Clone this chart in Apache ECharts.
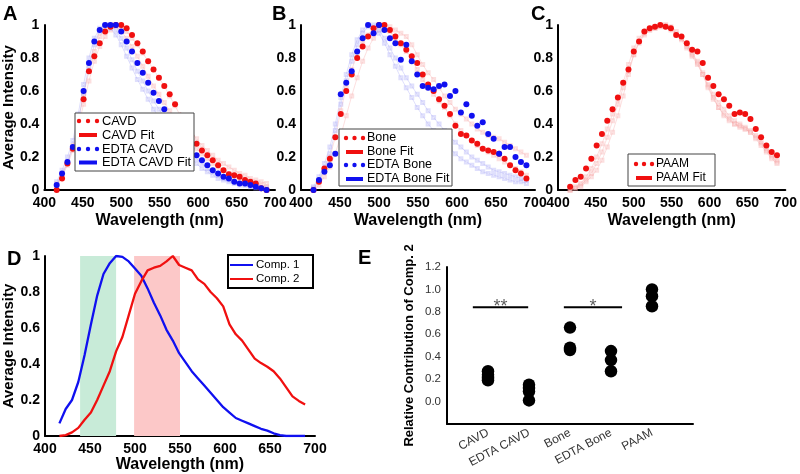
<!DOCTYPE html>
<html>
<head>
<meta charset="utf-8">
<script src="https://cdn.jsdelivr.net/npm/echarts@6/dist/echarts.min.js"></script>
<style>
  html, body { margin: 0; padding: 0; background: #fff; }
  #main { width: 800px; height: 474px; }
</style>
</head>
<body>
<div id="main"></div>
<script>
// wavelength channels (nm)
const wavelengths = [416, 423, 430, 437, 444, 451, 458, 465, 472, 479, 486, 493, 500, 507, 514, 521, 528, 535, 542, 549,
                     556, 563, 570, 577, 584, 591, 598, 605, 612, 619, 626, 633, 640, 647, 654, 661, 668, 675, 682, 689];

// panel A
const cavd = [0.00, 0.07, 0.16, 0.25, 0.38, 0.55, 0.72, 0.81, 0.89, 0.96, 0.99, 1.00, 1.00, 0.98, 0.94, 0.89, 0.84, 0.78, 0.73, 0.68,
              0.63, 0.58, 0.52, 0.45, 0.39, 0.33, 0.28, 0.24, 0.21, 0.18, 0.15, 0.12, 0.095, 0.09, 0.08, 0.06, 0.05, 0.04, 0.01, 0.00];
const edtaCavd = [0.03, 0.10, 0.17, 0.26, 0.42, 0.60, 0.77, 0.90, 0.97, 1.00, 1.00, 1.00, 0.96, 0.90, 0.84, 0.77, 0.71, 0.65, 0.59, 0.54,
                  0.49, 0.43, 0.38, 0.33, 0.29, 0.25, 0.21, 0.18, 0.15, 0.12, 0.10, 0.08, 0.07, 0.05, 0.04, 0.04, 0.03, 0.02, 0.01, 0.00];
const cavdFaint1 = [0.02, 0.08, 0.15, 0.24, 0.38, 0.52, 0.66, 0.78, 0.87, 0.93, 0.97, 1.00, 0.99, 0.96, 0.92, 0.88, 0.83, 0.78, 0.73, 0.68,
                    0.63, 0.57, 0.51, 0.45, 0.40, 0.35, 0.31, 0.27, 0.24, 0.21, 0.18, 0.16, 0.14, 0.12, 0.10, 0.09, 0.07, 0.06, 0.05, 0.04];
const cavdFaint2 = [0.04, 0.10, 0.17, 0.27, 0.42, 0.58, 0.72, 0.84, 0.93, 0.98, 1.00, 0.99, 0.96, 0.92, 0.87, 0.81, 0.75, 0.69, 0.63, 0.58,
                    0.53, 0.48, 0.43, 0.38, 0.33, 0.29, 0.25, 0.22, 0.19, 0.16, 0.14, 0.12, 0.10, 0.08, 0.07, 0.06, 0.05, 0.04, 0.03, 0.02];
const edtaCavdFaint1 = [0.05, 0.12, 0.20, 0.30, 0.46, 0.64, 0.80, 0.92, 0.98, 1.00, 0.98, 0.94, 0.88, 0.81, 0.74, 0.67, 0.61, 0.55, 0.49, 0.44,
                        0.39, 0.34, 0.30, 0.26, 0.22, 0.19, 0.16, 0.13, 0.11, 0.09, 0.07, 0.06, 0.05, 0.04, 0.03, 0.03, 0.02, 0.01, 0.01, 0.00];
const edtaCavdFaint2 = [0.03, 0.09, 0.16, 0.26, 0.41, 0.59, 0.75, 0.88, 0.96, 1.00, 1.00, 0.97, 0.92, 0.86, 0.79, 0.72, 0.66, 0.60, 0.54, 0.49,
                        0.44, 0.39, 0.35, 0.30, 0.26, 0.22, 0.19, 0.16, 0.13, 0.11, 0.09, 0.07, 0.06, 0.05, 0.04, 0.03, 0.02, 0.02, 0.01, 0.01];

// panel B
const bone = [0.00, 0.05, 0.13, 0.19, 0.32, 0.46, 0.60, 0.70, 0.80, 0.87, 0.93, 0.98, 1.00, 1.00, 0.97, 0.93, 0.89, 0.85, 0.81, 0.77,
              0.70, 0.64, 0.60, 0.55, 0.51, 0.46, 0.39, 0.34, 0.33, 0.30, 0.28, 0.25, 0.24, 0.23, 0.22, 0.19, 0.15, 0.12, 0.10, 0.07];
const edtaBone = [0.00, 0.06, 0.11, 0.15, 0.22, 0.58, 0.65, 0.72, 0.84, 0.92, 1.00, 0.95, 1.00, 0.97, 0.92, 0.89, 0.79, 0.88, 0.78, 0.70,
                  0.63, 0.62, 0.61, 0.63, 0.64, 0.57, 0.60, 0.47, 0.52, 0.45, 0.39, 0.41, 0.34, 0.31, 0.22, 0.26, 0.26, 0.20, 0.17, 0.15];
const boneFaint1 = [0.00, 0.03, 0.08, 0.14, 0.22, 0.33, 0.45, 0.57, 0.68, 0.78, 0.86, 0.92, 0.97, 1.00, 0.99, 0.97, 0.95, 0.93, 0.88, 0.82,
                    0.76, 0.71, 0.67, 0.62, 0.57, 0.53, 0.49, 0.46, 0.43, 0.40, 0.37, 0.35, 0.33, 0.32, 0.31, 0.29, 0.27, 0.25, 0.23, 0.21];
const boneFaint2 = [0.01, 0.05, 0.12, 0.20, 0.32, 0.48, 0.62, 0.73, 0.82, 0.89, 0.94, 0.98, 1.00, 0.99, 0.96, 0.92, 0.88, 0.84, 0.79, 0.73,
                    0.67, 0.62, 0.58, 0.54, 0.50, 0.45, 0.40, 0.36, 0.33, 0.30, 0.27, 0.25, 0.23, 0.21, 0.19, 0.17, 0.15, 0.13, 0.11, 0.09];
const edtaBoneFaint1 = [0.02, 0.08, 0.16, 0.26, 0.40, 0.56, 0.70, 0.82, 0.91, 0.97, 1.00, 0.99, 0.95, 0.89, 0.82, 0.75, 0.68, 0.62, 0.56, 0.50,
                        0.45, 0.40, 0.36, 0.32, 0.28, 0.25, 0.22, 0.19, 0.17, 0.15, 0.13, 0.11, 0.10, 0.09, 0.08, 0.07, 0.06, 0.05, 0.05, 0.04];
const edtaBoneFaint2 = [0.01, 0.06, 0.13, 0.22, 0.36, 0.52, 0.66, 0.78, 0.88, 0.95, 0.99, 1.00, 0.97, 0.92, 0.86, 0.80, 0.74, 0.68, 0.63, 0.58,
                        0.53, 0.48, 0.44, 0.40, 0.36, 0.32, 0.29, 0.26, 0.23, 0.20, 0.18, 0.16, 0.14, 0.12, 0.11, 0.10, 0.09, 0.08, 0.07, 0.06];

// panel C
const paam = [0.02, 0.06, 0.08, 0.13, 0.19, 0.27, 0.34, 0.42, 0.49, 0.56, 0.65, 0.73, 0.84, 0.90, 0.96, 0.98, 0.99, 1.00, 0.99, 0.98,
              0.94, 0.93, 0.89, 0.85, 0.84, 0.77, 0.68, 0.63, 0.58, 0.55, 0.51, 0.46, 0.47, 0.46, 0.43, 0.37, 0.32, 0.27, 0.23, 0.21];
const paamFaint1 = [0.00, 0.01, 0.03, 0.06, 0.10, 0.16, 0.23, 0.32, 0.42, 0.52, 0.62, 0.72, 0.82, 0.89, 0.94, 0.97, 0.98, 0.99, 1.00, 0.98,
                    0.95, 0.92, 0.88, 0.83, 0.78, 0.71, 0.64, 0.58, 0.53, 0.49, 0.45, 0.42, 0.40, 0.38, 0.36, 0.33, 0.29, 0.25, 0.21, 0.18];
const paamFaint2 = [0.00, 0.02, 0.04, 0.08, 0.13, 0.20, 0.28, 0.37, 0.46, 0.55, 0.65, 0.76, 0.86, 0.92, 0.96, 0.98, 0.99, 1.00, 0.99, 0.97,
                    0.94, 0.91, 0.86, 0.81, 0.76, 0.70, 0.63, 0.56, 0.50, 0.46, 0.43, 0.40, 0.38, 0.37, 0.35, 0.32, 0.28, 0.24, 0.20, 0.17];
const paamFaint3 = [0.00, 0.01, 0.02, 0.05, 0.08, 0.12, 0.18, 0.26, 0.35, 0.45, 0.57, 0.70, 0.82, 0.90, 0.95, 0.97, 0.98, 0.99, 1.00, 0.99,
                    0.96, 0.92, 0.87, 0.82, 0.77, 0.70, 0.62, 0.55, 0.50, 0.45, 0.42, 0.40, 0.39, 0.37, 0.35, 0.31, 0.27, 0.23, 0.19, 0.16];

// panel D
const comp1 = [0.07, 0.15, 0.20, 0.30, 0.45, 0.62, 0.78, 0.90, 0.96, 1.00, 0.995, 0.97, 0.93, 0.89, 0.82, 0.74, 0.67, 0.59, 0.53, 0.46,
               0.41, 0.36, 0.32, 0.28, 0.24, 0.20, 0.16, 0.13, 0.10, 0.085, 0.07, 0.055, 0.04, 0.03, 0.015, 0.005, 0.00, 0.00, 0.00, 0.00];
const comp2 = [0.00, 0.005, 0.02, 0.045, 0.09, 0.13, 0.20, 0.28, 0.36, 0.47, 0.55, 0.67, 0.79, 0.86, 0.92, 0.935, 0.945, 0.97, 1.00, 0.95,
               0.935, 0.92, 0.87, 0.845, 0.80, 0.765, 0.72, 0.62, 0.565, 0.53, 0.48, 0.43, 0.405, 0.385, 0.36, 0.32, 0.27, 0.22, 0.195, 0.175];
const greenBand = [439, 479];
const redBand = [499, 550];

// panel E
const groups = ['CAVD', 'EDTA CAVD', 'Bone', 'EDTA Bone', 'PAAM'];
const contribCavd = [0.27, 0.24, 0.21, 0.19];
const contribEdtaCavd = [0.15, 0.12, 0.09, 0.01];
const contribBone = [0.66, 0.48, 0.46];
const contribEdtaBone = [0.45, 0.37, 0.27];
const contribPaam = [1.00, 0.94, 0.85];
const sigFrom = [0.63, 2.85];
const sigTo = [1.98, 4.27];
const sigY = [0.84, 0.84];
const sigText = ['**', '*'];

const RED = '#f01010';
const BLUE = '#1010f0';
const PINK = '#f59a9a';
const LAV = '#9a9af5';
const FONT = 'Liberation Sans, Arial, sans-serif';

const pairs = ys => wavelengths.map((w, i) => [w, ys[i]]);

function specX(idx, showName, gap) {
    return {
        gridIndex: idx, type: 'value', min: 400, max: 700, interval: 50,
        name: showName ? 'Wavelength (nm)' : '', nameLocation: 'middle', nameGap: gap,
        nameTextStyle: { fontFamily: FONT, fontWeight: 'bold', fontSize: 16, color: '#000' },
        axisLine: { show: true, onZero: false, lineStyle: { color: '#000', width: 2 } },
        axisTick: { show: false }, splitLine: { show: false },
        axisLabel: { fontFamily: FONT, fontWeight: 'bold', fontSize: 14, color: '#000', margin: 6 },
    };
}
function specY(idx, showName, gap) {
    return {
        gridIndex: idx, type: 'value', min: 0, max: 1, interval: 0.2,
        name: showName ? 'Average Intensity' : '', nameLocation: 'middle', nameGap: gap,
        nameTextStyle: { fontFamily: FONT, fontWeight: 'bold', fontSize: 15, color: '#000' },
        axisLine: { show: true, onZero: false, lineStyle: { color: '#000', width: 2 } },
        axisTick: { show: false }, splitLine: { show: false },
        axisLabel: { fontFamily: FONT, fontWeight: 'bold', fontSize: 14, color: '#000', margin: 5 },
    };
}
function dots(idx, ys, color) {
    return { type: 'scatter', xAxisIndex: idx, yAxisIndex: idx, data: pairs(ys), symbolSize: 6,
             itemStyle: { color: color, opacity: 1 }, z: 4, silent: true };
}
function faint(idx, ys, color) {
    return { type: 'line', xAxisIndex: idx, yAxisIndex: idx, data: pairs(ys), symbol: 'emptyRect', symbolSize: 3,
             lineStyle: { color: color, width: 1, opacity: 0.32 }, itemStyle: { color: color, borderColor: color, opacity: 0.32 },
             z: 3, silent: true };
}

function legend(L) {
    const els = [{ type: 'rect', z: 100, shape: { x: L.box[0], y: L.box[1], width: L.box[2], height: L.box[3] },
                   style: { fill: '#fff', stroke: L.stroke || '#444', lineWidth: L.lw || 1 } }];
    L.items.forEach((it, k) => {
        const y = L.rowY[k];
        if (it[1] === 'dots') {
            [0, 0.5, 1].forEach(f => els.push({ type: 'circle', z: 101,
                shape: { cx: L.iconX[0] + f * (L.iconX[1] - L.iconX[0]), cy: y, r: 2.2 }, style: { fill: it[2] } }));
        } else {
            els.push({ type: 'line', z: 101, shape: { x1: L.iconX[0], y1: y, x2: L.iconX[1], y2: y },
                       style: { stroke: it[2], lineWidth: L.lineW || 4 } });
        }
        els.push({ type: 'text', z: 101, x: L.textX, y: y,
                   style: { text: it[0], fontFamily: FONT, fontSize: L.font, fill: '#000', verticalAlign: 'middle' } });
    });
    return els;
}

const letters = [['A', 3, 4], ['B', 272, 4], ['C', 531, 4], ['D', 7, 249], ['E', 358, 248]].map(l => ({
    type: 'text', z: 100, x: l[1], y: l[2],
    style: { text: l[0], fontFamily: FONT, fontWeight: 'bold', fontSize: 20, fill: '#000' }
}));

const graphics = [].concat(
    letters,
    legend({ box: [75, 113, 119, 58], rowY: [121, 135, 149, 162.5], iconX: [79, 97], textX: 102, font: 12.8,
             items: [['CAVD', 'dots', RED], ['CAVD Fit', 'line', RED], ['EDTA CAVD', 'dots', BLUE], ['EDTA CAVD Fit', 'line', BLUE]] }),
    legend({ box: [339, 129, 113, 57], rowY: [138, 152, 165, 179], iconX: [346, 363], textX: 367, font: 12.5,
             items: [['Bone', 'dots', RED], ['Bone Fit', 'line', RED], ['EDTA Bone', 'dots', BLUE], ['EDTA Bone Fit', 'line', BLUE]] }),
    legend({ box: [628, 154, 87, 32], rowY: [164, 178], iconX: [636, 652], textX: 656, font: 12,
             items: [['PAAM', 'dots', RED], ['PAAM Fit', 'line', RED]] }),
    legend({ box: [228, 255, 85, 33], rowY: [265, 279], iconX: [230, 253], textX: 256, font: 11.5, lineW: 2, stroke: '#000', lw: 2,
             items: [['Comp. 1', 'line', BLUE], ['Comp. 2', 'line', RED]] })
);

const eSeries = [contribCavd, contribEdtaCavd, contribBone, contribEdtaBone, contribPaam].map((vals, g) => ({
    type: 'scatter', xAxisIndex: 4, yAxisIndex: 4, symbolSize: 12.5, itemStyle: { color: '#000', opacity: 1 }, silent: true,
    data: vals.map(v => [g + 1, v])
}));
const sigSeries = [];
sigFrom.forEach((f, k) => {
    sigSeries.push({ type: 'line', xAxisIndex: 4, yAxisIndex: 4, symbol: 'none', silent: true,
                     lineStyle: { color: '#000', width: 2 }, data: [[f, sigY[k]], [sigTo[k], sigY[k]]] });
    sigSeries.push({ type: 'scatter', xAxisIndex: 4, yAxisIndex: 4, symbolSize: 0, silent: true,
                     data: [[(f + sigTo[k]) / 2, sigY[k]]],
                     label: { show: true, position: 'top', distance: 0, offset: [0, 9], formatter: sigText[k],
                              fontFamily: FONT, fontSize: 18, color: '#333' } });
});

const option = {
    backgroundColor: '#fff',
    animation: false,
    grid: [
        { left: 39, top: 25, width: 236, height: 165 },
        { left: 301, top: 25, width: 234, height: 165 },
        { left: 558, top: 25, width: 235, height: 165 },
        { left: 45, top: 256, width: 270, height: 181 },
        { left: 447, top: 267, width: 246, height: 157 },
    ],
    xAxis: [
        specX(0, true, 23), specX(1, true, 23), specX(2, true, 23), specX(3, true, 21),
        {
            gridIndex: 4, type: 'value', min: 0, max: 6, interval: 1,
            axisLine: { show: true, onZero: false, lineStyle: { color: '#000', width: 2 } },
            axisTick: { show: false }, splitLine: { show: false },
            axisLabel: { rotate: 28, margin: 8, fontFamily: FONT, fontSize: 12, color: '#333',
                         formatter: v => groups[v - 1] || '' },
        },
    ],
    yAxis: [
        specY(0, true, 21), specY(1, false, 0), specY(2, false, 0), specY(3, true, 28),
        {
            gridIndex: 4, type: 'value', min: -0.2, max: 1.2, interval: 0.2,
            name: 'Relative Contribution of Comp. 2', nameLocation: 'middle', nameGap: 31,
            nameTextStyle: { fontFamily: FONT, fontWeight: 'bold', fontSize: 13, color: '#000' },
            axisLine: { show: true, onZero: false, lineStyle: { color: '#000', width: 2 } },
            axisTick: { show: false }, splitLine: { show: false },
            axisLabel: { margin: 6, fontFamily: FONT, fontSize: 11.5, color: '#333',
                         formatter: v => (v < -0.001 ? '' : Math.abs(v).toFixed(1)) },
        },
    ],
    graphic: graphics,
    series: [
        faint(0, cavdFaint1, PINK), faint(0, cavdFaint2, PINK), faint(0, edtaCavdFaint1, LAV), faint(0, edtaCavdFaint2, LAV),
        dots(0, cavd, RED), dots(0, edtaCavd, BLUE),
        faint(1, boneFaint1, PINK), faint(1, boneFaint2, PINK), faint(1, edtaBoneFaint1, LAV), faint(1, edtaBoneFaint2, LAV),
        dots(1, bone, RED), dots(1, edtaBone, BLUE),
        faint(2, paamFaint1, PINK), faint(2, paamFaint2, PINK), faint(2, paamFaint3, PINK),
        dots(2, paam, RED),
        {
            type: 'line', xAxisIndex: 3, yAxisIndex: 3, data: pairs(comp1), symbol: 'none', silent: true,
            lineStyle: { color: BLUE, width: 2.3 },
            markArea: {
                silent: true,
                data: [
                    [{ xAxis: greenBand[0], itemStyle: { color: '#c8ebd8' } }, { xAxis: greenBand[1] }],
                    [{ xAxis: redBand[0], itemStyle: { color: '#fcc8c8' } }, { xAxis: redBand[1] }],
                ],
            },
        },
        {
            type: 'line', xAxisIndex: 3, yAxisIndex: 3, data: pairs(comp2), symbol: 'none', silent: true,
            lineStyle: { color: RED, width: 2.3 },
        },
    ].concat(eSeries, sigSeries),
};

const chart = echarts.init(document.getElementById('main'), null, { renderer: 'canvas' });
chart.setOption(option);
</script>
</body>
</html>
